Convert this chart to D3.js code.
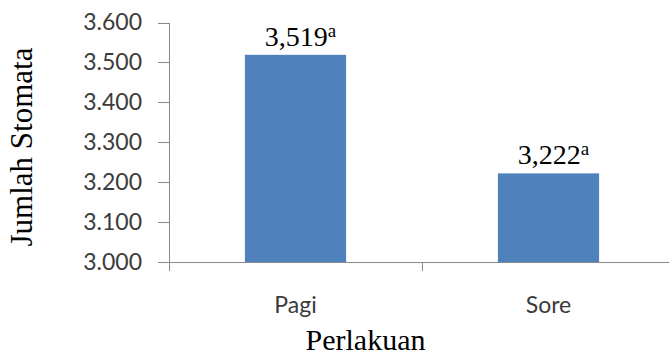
<!DOCTYPE html>
<html>
<head>
<meta charset="utf-8">
<script src="https://cdn.jsdelivr.net/npm/d3@7"></script>
<style>
  html, body { margin: 0; padding: 0; background: #fff; }
  svg { display: block; }
</style>
</head>
<body>
<svg id="chart" width="669" height="358"></svg>
<script>
// Data
const categories = ["Pagi", "Sore"];
const values = [3.519, 3.222];
const notations = ["a", "a"];
const yTicks = [3.0, 3.1, 3.2, 3.3, 3.4, 3.5, 3.6];
const yTitle = "Jumlah Stomata";
const xTitle = "Perlakuan";

const svg = d3.select("#chart");
const axisColor = "#8a8a8a";
const barColor = "#4f81bd";

const plot = { left: 169, right: 675, top: 22.5, bottom: 262 };

const x = d3.scaleBand()
  .domain(categories)
  .range([plot.left, plot.right])
  .paddingInner(0.6)
  .paddingOuter(0.3);

const y = d3.scaleLinear()
  .domain([3.0, 3.6])
  .range([plot.bottom, plot.top]);

// Y axis
const yAxis = d3.axisLeft(y)
  .tickValues(yTicks)
  .tickFormat(d3.format(".3f"))
  .tickSize(11)
  .tickPadding(16);

const gy = svg.append("g")
  .attr("transform", `translate(${plot.left},0)`)
  .call(yAxis);
gy.select(".domain").remove();
gy.selectAll(".tick line").attr("stroke", axisColor).attr("shape-rendering", "crispEdges");
gy.selectAll(".tick text")
  .attr("fill", "#3b3b3b")
  .style("font-family", "Lato, 'Open Sans', sans-serif")
  .style("font-size", "23px");

// Axis lines
svg.append("line")
  .attr("x1", plot.left).attr("x2", plot.left)
  .attr("y1", y(3.6)).attr("y2", plot.bottom + 9)
  .attr("stroke", axisColor).attr("shape-rendering", "crispEdges");
svg.append("line")
  .attr("x1", plot.left - 11).attr("x2", plot.right)
  .attr("y1", plot.bottom).attr("y2", plot.bottom)
  .attr("stroke", axisColor).attr("shape-rendering", "crispEdges");

// Category separators on the x axis
const gap = (x.step() - x.bandwidth()) / 2;
const bounds = categories.map(c => x(c) - gap).concat([x(categories[categories.length - 1]) + x.bandwidth() + gap]);
svg.selectAll("line.xtick").data(bounds.slice(1)).join("line")
  .attr("class", "xtick")
  .attr("x1", d => d).attr("x2", d => d)
  .attr("y1", plot.bottom).attr("y2", plot.bottom + 9)
  .attr("stroke", axisColor).attr("shape-rendering", "crispEdges");

// Category labels
svg.selectAll("text.cat").data(categories).join("text")
  .attr("class", "cat")
  .attr("x", d => x(d) + x.bandwidth() / 2)
  .attr("y", 313)
  .attr("text-anchor", "middle")
  .attr("fill", "#3b3b3b")
  .style("font-family", "Lato, 'Open Sans', sans-serif")
  .style("font-size", "23px")
  .text(d => d);

// Bars
svg.selectAll("rect.bar").data(values).join("rect")
  .attr("class", "bar")
  .attr("x", (d, i) => x(categories[i]))
  .attr("width", x.bandwidth())
  .attr("y", d => y(d))
  .attr("height", d => plot.bottom - y(d))
  .attr("fill", barColor);

// Value labels with notation letters
const commaFmt = d => d3.format(".3f")(d).replace(".", ",");
const labels = svg.selectAll("text.val").data(values).join("text")
  .attr("class", "val")
  .attr("x", (d, i) => x(categories[i]) + x.bandwidth() / 2 + 5)
  .attr("y", d => y(d) - 9)
  .attr("text-anchor", "middle")
  .attr("fill", "#000")
  .style("font-family", "'Liberation Serif', 'Times New Roman', serif")
  .style("font-size", "28px");
labels.append("tspan").text(d => commaFmt(d));
labels.append("tspan")
  .attr("dy", -9)
  .style("font-size", "19px")
  .text((d, i) => notations[i]);

// Axis titles
svg.append("text")
  .attr("transform", `translate(32,147) rotate(-90)`)
  .attr("text-anchor", "middle")
  .attr("fill", "#000")
  .style("font-family", "'Liberation Serif', 'Times New Roman', serif")
  .style("font-size", "31px")
  .text(yTitle);

svg.append("text")
  .attr("x", 365.5)
  .attr("y", 350)
  .attr("text-anchor", "middle")
  .attr("fill", "#000")
  .style("font-family", "'Liberation Serif', 'Times New Roman', serif")
  .style("font-size", "30px")
  .text(xTitle);
</script>
</body>
</html>
